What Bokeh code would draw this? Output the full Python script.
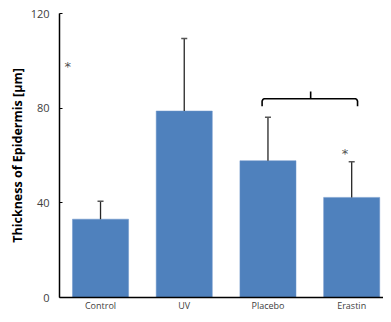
from bokeh.plotting import figure
from bokeh.models import Range1d, FixedTicker, ColumnDataSource, Title
from bokeh.core.properties import value
from bokeh.embed import file_html
from bokeh.resources import INLINE

categories = ["Control", "UV", "Placebo", "Erastin"]
means = [33.1, 78.8, 57.8, 42.3]
errors = [7.6, 30.6, 18.4, 15.1]
y_ticks = [0, 40, 80, 120]
y_title = "Thickness of Epidermis [µm]"

xs = [i + 0.5 for i in range(len(categories))]
upper = [m + e for m, e in zip(means, errors)]

p = figure(width=383, height=314, output_backend="svg", toolbar_location=None,
           x_range=Range1d(0.01, 3.88), y_range=Range1d(0, 120),
           min_border_left=59, min_border_right=0, min_border_top=13, min_border_bottom=14)
p.outline_line_color = None
p.xgrid.grid_line_color = None
p.ygrid.grid_line_color = None
p.background_fill_color = "white"

src = ColumnDataSource(dict(x=xs, top=means, upper=upper))
p.vbar(x="x", top="top", width=0.67, source=src, fill_color="#4F81BD", line_color="#6C95CB", line_width=0.5)
p.segment(x0="x", y0="top", x1="x", y1="upper", source=src, line_color="#262626", line_width=1.3)
cap = 0.036
p.segment(x0=[x - cap for x in xs], y0=upper, x1=[x + cap for x in xs], y1=upper,
          line_color="#555555", line_width=1.5)

# significance marks
star_x = [0.11, 3.42]
star_y = [97.5, 60.8]
p.text(x=star_x, y=star_y, text=["*", "*"], text_align="center", text_baseline="middle",
       text_font=value("DejaVu Sans"), text_font_size="13px", text_color="#505050")

# bracket over Placebo–Erastin
bx0, bx1, bmid = 2.43, 3.57, 3.01
by, bdrop, bup = 84.0, 80.8, 87.0
r = 0.025
p.line(x=[bx0, bx0, bx0 + r * 0.4, bx0 + r, bx1 - r, bx1 - r * 0.4, bx1, bx1],
       y=[bdrop, by - 1.0, by - 0.3, by, by, by - 0.3, by - 1.0, bdrop],
       line_color="black", line_width=1.6)
p.line(x=[bmid, bmid], y=[by, bup], line_color="black", line_width=1.6)

# y-axis title as a side title (vertical), shifted like the reference
p.add_layout(Title(text=y_title, align="center", offset=14, standoff=4,
                   text_font="Open Sans", text_font_style="bold",
                   text_font_size="12.5px", text_color="black"), "left")

# axes
p.yaxis.ticker = FixedTicker(ticks=y_ticks)
p.yaxis.major_tick_in = 3
p.yaxis.major_tick_out = 0
p.yaxis.minor_tick_line_color = None
p.yaxis.axis_line_width = 1.5
p.yaxis.axis_line_color = "black"
p.yaxis.major_tick_line_color = "black"
p.yaxis.major_label_text_font = "Open Sans"
p.yaxis.major_label_text_font_size = "11px"
p.yaxis.major_label_text_color = "#404040"
p.yaxis.major_label_standoff = 10

p.xaxis.ticker = FixedTicker(ticks=xs)
p.xaxis.major_label_overrides = {x: c for x, c in zip(xs, categories)}
p.xaxis.major_tick_line_color = None
p.xaxis.major_tick_in = 0
p.xaxis.major_tick_out = 0
p.xaxis.minor_tick_line_color = None
p.xaxis.minor_tick_in = 0
p.xaxis.minor_tick_out = 0
p.xaxis.axis_line_width = 1.5
p.xaxis.axis_line_color = "black"
p.xaxis.major_label_text_font = "Open Sans"
p.xaxis.major_label_text_font_size = "9px"
p.xaxis.major_label_text_color = "#404040"
p.xaxis.major_label_standoff = 1

open("out.html", "w").write(file_html(p, INLINE))
